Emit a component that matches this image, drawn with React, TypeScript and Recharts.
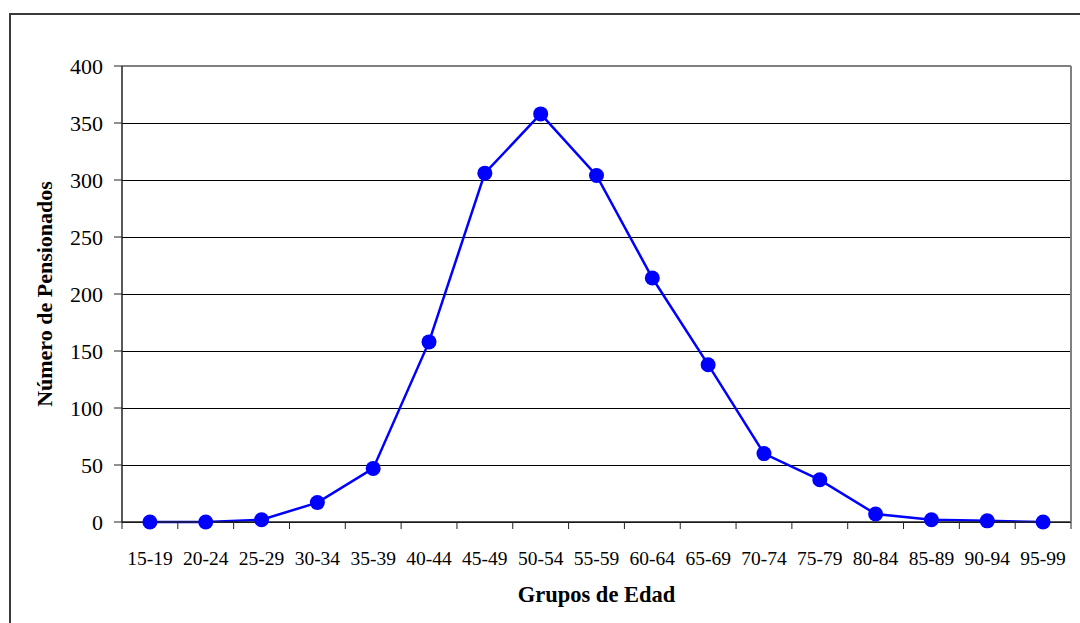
import { LineChart, Line, XAxis, YAxis, CartesianGrid, ReferenceLine, Label } from 'recharts';

const groups = [
    '15-19', '20-24', '25-29', '30-34', '35-39', '40-44', '45-49', '50-54', '55-59',
    '60-64', '65-69', '70-74', '75-79', '80-84', '85-89', '90-94', '95-99',
];
const pensionados = [0, 0, 2, 17, 47, 158, 306, 358, 304, 214, 138, 60, 37, 7, 2, 1, 0];
const yTicks = [0, 50, 100, 150, 200, 250, 300, 350, 400];

const data = groups.map((g, i) => ({ group: g, value: pensionados[i] }));

const serif = '"Liberation Serif", "Times New Roman", serif';
const LABEL_GAP = 29;

// category label plus a small tick mark on the band edge (Excel style)
const GroupTick = (props: any) => {
    const { x, y, payload, index, visibleTicksCount } = props;
    const half = payload.offset ?? 0;
    const axisY = y - LABEL_GAP;
    return (
        <g>
            <line x1={x - half} x2={x - half} y1={axisY} y2={axisY + 7} stroke="#222" />
            {index === visibleTicksCount - 1 && (
                <line x1={x + half} x2={x + half} y1={axisY} y2={axisY + 7} stroke="#222" />
            )}
            <text x={x} y={y} dy="0.71em" textAnchor="middle" fill="#000" fontSize={19.5} fontFamily={serif}>
                {payload.value}
            </text>
        </g>
    );
};

const App = () => (
    <div style={{ position: 'absolute', left: 0, top: 0, width: 1080, height: 623, overflow: 'hidden', background: '#fff' }}>
        <div
            style={{
                position: 'absolute', left: 9, top: 13, width: 1200, height: 800,
                borderLeft: '2px solid #3a3a3a', borderTop: '2px solid #3a3a3a',
            }}
        />
        <LineChart
            width={1080}
            height={623}
            data={data}
            margin={{ top: 66, right: 0, bottom: 0, left: 0 }}
            style={{ position: 'absolute', left: 0, top: 0, fontFamily: serif }}
        >
            <CartesianGrid
                xAxisId="cat"
                yAxisId="left"
                vertical={false}
                stroke="#000"
                strokeWidth={1}
                shapeRendering="crispEdges"
            />
            <XAxis
                xAxisId="cat"
                dataKey="group"
                scale="band"
                height={101}
                axisLine={{ stroke: '#222', strokeWidth: 1.5 }}
                tickLine={false}
                tickSize={0}
                tickMargin={LABEL_GAP}
                interval={0}
                tick={GroupTick}
            >
                <Label
                    value="Grupos de Edad"
                    position="insideBottom"
                    offset={21}
                    style={{ fill: '#000', fontSize: 22.5, fontWeight: 'bold', fontFamily: serif }}
                />
            </XAxis>
            <YAxis
                yAxisId="left"
                domain={[0, 400]}
                ticks={yTicks}
                width={122}
                tickSize={8}
                tickMargin={11}
                axisLine={{ stroke: '#222', strokeWidth: 1.5 }}
                tickLine={{ stroke: '#222' }}
                tick={{ fill: '#000', fontSize: 22, fontFamily: serif }}
            >
                <Label
                    value="Número de Pensionados"
                    angle={-90}
                    position="insideLeft"
                    offset={44}
                    style={{ textAnchor: 'middle', fill: '#000', fontSize: 22, fontWeight: 'bold', fontFamily: serif }}
                />
            </YAxis>
            <YAxis
                yAxisId="right"
                orientation="right"
                domain={[0, 400]}
                width={9}
                tick={false}
                tickLine={false}
                axisLine={{ stroke: '#808080', strokeWidth: 2 }}
            />
            <ReferenceLine yAxisId="left" xAxisId="cat" y={400} stroke="#808080" strokeWidth={2} />
            <Line
                xAxisId="cat"
                yAxisId="left"
                dataKey="value"
                stroke="#0000ff"
                strokeWidth={2.5}
                dot={{ r: 7.5, fill: '#0000ff', stroke: 'none' }}
                activeDot={false}
                isAnimationActive={false}
            />
        </LineChart>
    </div>
);

export default App;
